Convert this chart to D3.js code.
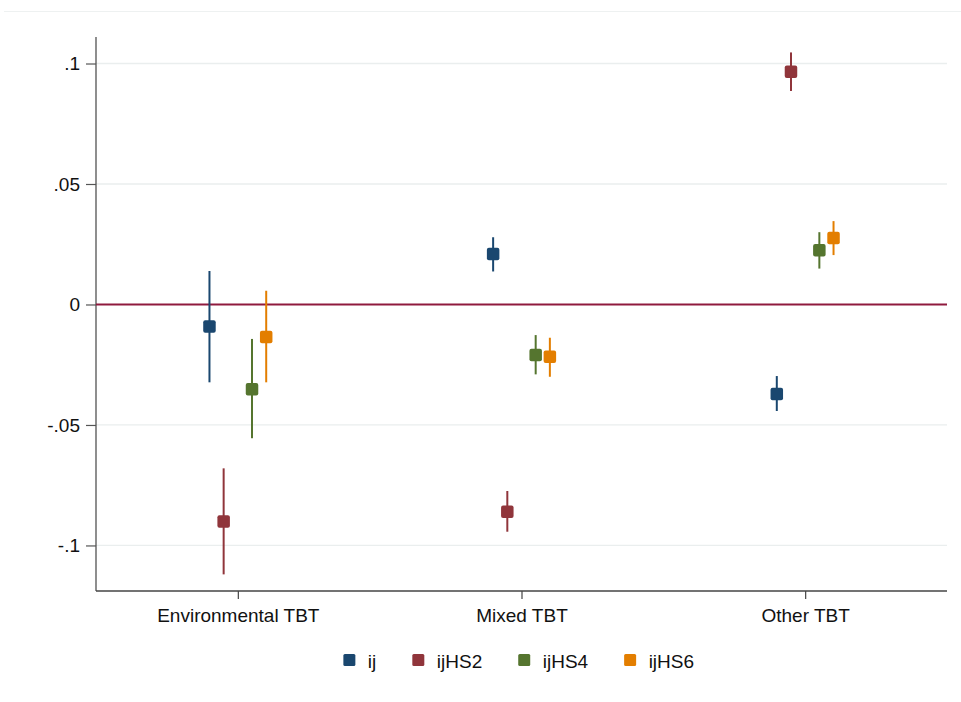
<!DOCTYPE html>
<html>
<head>
<meta charset="utf-8">
<script src="https://cdn.jsdelivr.net/npm/d3@7"></script>
<style>
  html, body { margin: 0; padding: 0; background: #fff; }
  svg { display: block; font-family: "Liberation Sans", Arial, sans-serif; }
</style>
</head>
<body>
<svg id="chart" width="961" height="702"></svg>
<script>
// Coefficient estimates with confidence intervals, by TBT type and fixed-effect level
const categories = ["Environmental TBT", "Mixed TBT", "Other TBT"];
const seriesNames = ["ij", "ijHS2", "ijHS4", "ijHS6"];
const seriesColors = ["#1a476f", "#90353b", "#55752f", "#e37e00"];

const estIj    = [-0.0091,  0.0210, -0.0371];
const estHS2   = [-0.0901, -0.0860,  0.0966];
const estHS4   = [-0.0352, -0.0210,  0.0225];
const estHS6   = [-0.0135, -0.0217,  0.0276];

const lowIj    = [-0.0323,  0.0137, -0.0442];
const lowHS2   = [-0.1120, -0.0943,  0.0886];
const lowHS4   = [-0.0555, -0.0290,  0.0149];
const lowHS6   = [-0.0323, -0.0300,  0.0205];

const highIj   = [ 0.0139,  0.0279, -0.0297];
const highHS2  = [-0.0680, -0.0774,  0.1046];
const highHS4  = [-0.0143, -0.0127,  0.0300];
const highHS6  = [ 0.0057, -0.0138,  0.0346];

const yTickValues = [0.1, 0.05, 0, -0.05, -0.1];
const yTickLabels = [".1", ".05", "0", "-.05", "-.1"];

const estimates = [estIj, estHS2, estHS4, estHS6];
const lows = [lowIj, lowHS2, lowHS4, lowHS6];
const highs = [highIj, highHS2, highHS4, highHS6];
const seriesOffsets = [-0.1, -0.05, 0.05, 0.1];

const svg = d3.select("#chart");
const plotLeft = 96, plotRight = 947, plotTop = 37, plotBottom = 591;
const fontSize = 19;

const x = d3.scaleLinear().domain([0.5, 3.5]).range([plotLeft, plotRight]);
const y = d3.scaleLinear().domain([-0.1189, 0.111]).range([plotBottom, plotTop]);

// faint rule across the top of the canvas
svg.append("line")
  .attr("x1", 4).attr("x2", 961).attr("y1", 11.5).attr("y2", 11.5)
  .attr("stroke", "#eef1f1").attr("stroke-width", 1);

// horizontal grid lines (zero gets its own reference line)
svg.append("g").selectAll("line")
  .data(yTickValues.filter(v => v !== 0))
  .join("line")
  .attr("x1", plotLeft).attr("x2", plotRight)
  .attr("y1", d => y(d)).attr("y2", d => y(d))
  .attr("stroke", "#eaeeee").attr("stroke-width", 1.3);

// y axis
const yAxis = d3.axisLeft(y)
  .tickValues(yTickValues)
  .tickFormat((d, i) => yTickLabels[i])
  .tickSize(10).tickPadding(6);
const gy = svg.append("g").attr("transform", `translate(${plotLeft},0)`).call(yAxis);
gy.select(".domain").attr("stroke", "#444").attr("stroke-width", 1.2)
  .attr("d", `M0,${plotTop}V${plotBottom}`);
gy.selectAll(".tick line").attr("stroke", "#555").attr("stroke-width", 1.2);
gy.selectAll(".tick text").attr("font-size", fontSize).attr("fill", "#111")
  .attr("font-family", "Liberation Sans, Arial, sans-serif");

// x axis
const xAxis = d3.axisBottom(x)
  .tickValues([1, 2, 3])
  .tickFormat((d) => categories[d - 1])
  .tickSize(8).tickPadding(10);
const gx = svg.append("g").attr("transform", `translate(0,${plotBottom})`).call(xAxis);
gx.select(".domain").attr("stroke", "#444").attr("stroke-width", 1.4)
  .attr("d", `M${plotLeft},0H${plotRight}`);
gx.selectAll(".tick line").attr("stroke", "#444").attr("stroke-width", 1.2);
gx.selectAll(".tick text").attr("font-size", fontSize).attr("fill", "#111")
  .attr("font-family", "Liberation Sans, Arial, sans-serif");

// zero reference line
svg.append("line")
  .attr("x1", plotLeft).attr("x2", plotRight)
  .attr("y1", y(0)).attr("y2", y(0))
  .attr("stroke", "#8f1a3e").attr("stroke-width", 2);

// confidence intervals and point estimates
const points = [];
seriesNames.forEach((name, s) => {
  categories.forEach((cat, c) => {
    points.push({
      s, c,
      xPos: c + 1 + seriesOffsets[s],
      est: estimates[s][c], lo: lows[s][c], hi: highs[s][c]
    });
  });
});

const marks = svg.append("g");
marks.selectAll("line.ci")
  .data(points)
  .join("line")
  .attr("class", "ci")
  .attr("x1", d => x(d.xPos)).attr("x2", d => x(d.xPos))
  .attr("y1", d => y(d.lo)).attr("y2", d => y(d.hi))
  .attr("stroke", d => seriesColors[d.s]).attr("stroke-width", 2);

const m = 12.5;
marks.selectAll("rect.pt")
  .data(points)
  .join("rect")
  .attr("class", "pt")
  .attr("x", d => x(d.xPos) - m / 2).attr("y", d => y(d.est) - m / 2)
  .attr("width", m).attr("height", m).attr("rx", 2)
  .attr("fill", d => seriesColors[d.s]);

// legend, centred under the plot
const legend = svg.append("g").attr("transform", "translate(0,660)");
const items = legend.selectAll("g").data(seriesNames).join("g");
items.append("rect")
  .attr("x", 0).attr("y", -6).attr("width", 12).attr("height", 12).attr("rx", 1.5)
  .attr("fill", (d, i) => seriesColors[i]);
items.append("text")
  .attr("x", 24.5).attr("y", 1).attr("dy", "0.35em")
  .attr("font-size", fontSize).attr("fill", "#111")
  .text(d => d);
let cursor = 0;
const gap = 36;
items.each(function () {
  const g = d3.select(this);
  const w = 24.5 + g.select("text").node().getComputedTextLength();
  g.attr("transform", `translate(${cursor},0)`);
  cursor += w + gap;
});
const totalW = cursor - gap;
legend.attr("transform", `translate(${518.7 - totalW / 2},660)`);
</script>
</body>
</html>
